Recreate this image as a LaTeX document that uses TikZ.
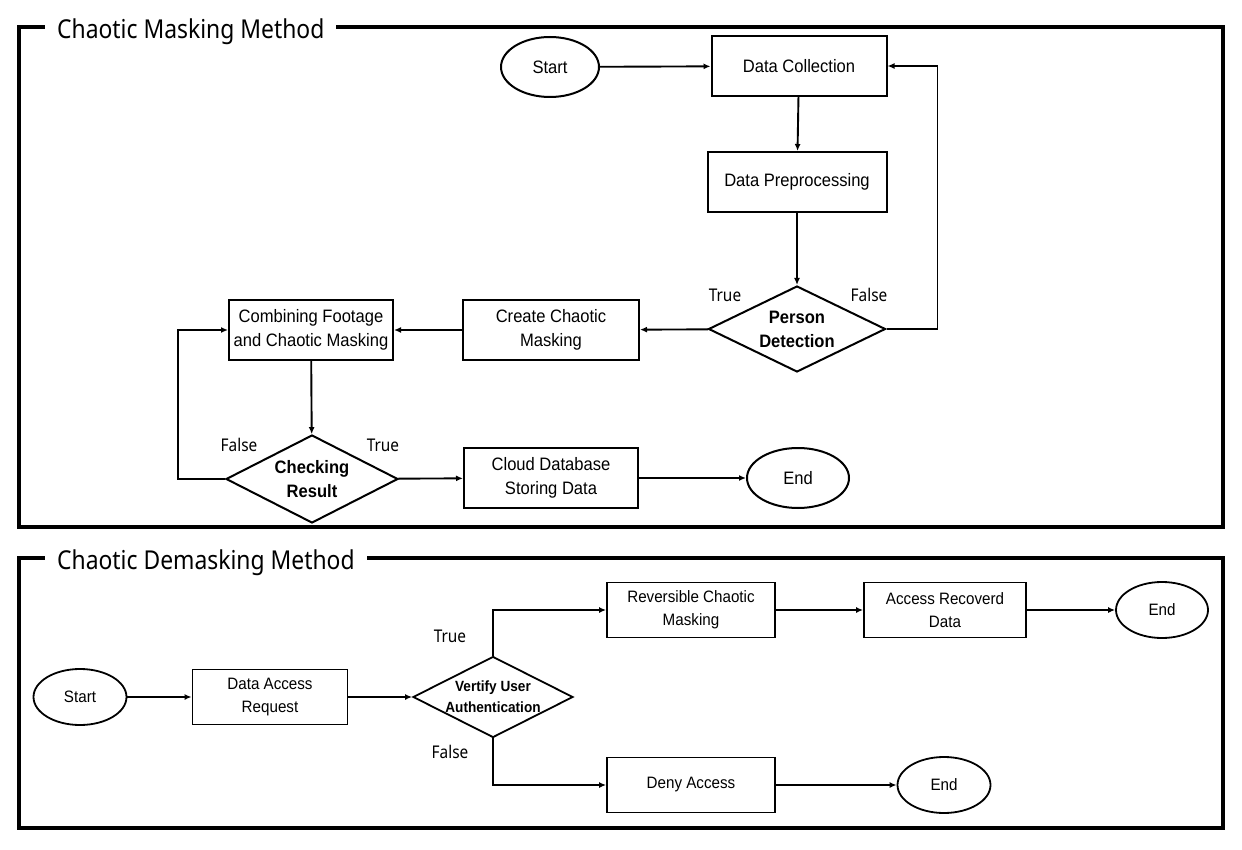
\documentclass[tikz,border=0pt]{standalone}
\usepackage{fontspec}
\setmainfont{Liberation Sans}
\newfontfamily\titlefont[FakeStretch=0.88]{Noto Sans}
\newfontfamily\boxfont[FakeStretch=0.92]{Liberation Sans}
\usetikzlibrary{shapes.geometric,arrows.meta}

\begin{document}
\begin{tikzpicture}[x=1pt, y=-1pt,
  frame/.style={line width=3.6pt},
  heading/.style={fill=white, inner xsep=12pt, inner ysep=3pt, anchor=base west,
    font=\titlefont\fontsize{26}{30}\selectfont},
  proc/.style={draw, line width=2pt, minimum height=60pt, inner sep=2pt, align=center,
    font=\boxfont\fontsize{18}{24}\selectfont},
  lowproc/.style={proc, line width=1.8pt, minimum height=55pt,
    font=\boxfont\fontsize{16.5}{23}\selectfont},
  decision/.style={draw, diamond, aspect=2, line width=2pt, inner sep=0pt, align=center,
    font=\boxfont\bfseries\fontsize{18}{24}\selectfont},
  terminal/.style={draw, ellipse, line width=2pt, inner sep=0pt,
    font=\boxfont\fontsize{18}{20}\selectfont},
  branch/.style={font=\titlefont\fontsize{17.5}{20}\selectfont},
  arr/.style={-{Latex[length=7pt,width=6pt]}, line width=1.9pt},
  lowarr/.style={arr, line width=1.5pt}]
\useasboundingbox (0,0) rectangle (1242,850);

% Chaotic Masking Method
\draw[frame] (19,27) rectangle (1223,527);
\node[heading] (mtitle) at (45,39) {Chaotic Masking Method};

\node[terminal, minimum width=98pt, minimum height=60pt] (start1) at (550,67) {Start};
\node[proc, minimum width=175pt] (dcol) at (799,66) {Data Collection};
\node[proc, minimum width=179pt] (dpre) at (797,182) {Data Preprocessing};
\node[decision, minimum width=177pt, minimum height=86pt] (pdet) at (797,329) {Person\\Detection};
\node[proc, minimum width=176pt] (cmask) at (551,330) {Create Chaotic\\Masking};
\node[proc, minimum width=164pt] (comb) at (311,330) {Combining Footage\\and Chaotic Masking};
\node[decision, minimum width=172pt, minimum height=88pt] (check) at (312,479) {Checking\\Result};
\node[proc, minimum width=174pt] (cloud) at (551,478) {Cloud Database\\Storing Data};
\node[terminal, minimum width=102pt, minimum height=60pt] (end1) at (798,478) {End};

\node[branch] (ptrue) at (725,295) {True};
\node[branch] (pfalse) at (869,295) {False};
\node[branch] (cfalse) at (239,445) {False};
\node[branch] (ctrue) at (383,445) {True};

\draw[arr] (start1) -- (dcol);
\draw[arr] (dcol) -- (dpre);
\draw[arr] (dpre) -- (pdet);
\draw[arr] (pdet.east) -- ++(51,0) |- (dcol);
\draw[arr] (pdet) -- (cmask);
\draw[arr] (cmask) -- (comb);
\draw[arr] (comb) -- (check);
\draw[arr] (check.west) -- ++(-47,0) |- (comb);
\draw[arr] (check) -- (cloud);
\draw[arr] (cloud) -- (end1);

% Chaotic Demasking Method
\draw[frame] (19,558) rectangle (1223,828);
\node[heading] (dtitle) at (45,569) {Chaotic Demasking Method};

\node[terminal, minimum width=93pt, minimum height=56pt, font=\boxfont\fontsize{16.5}{20}\selectfont, line width=1.8pt] (start2) at (80,697) {Start};
\node[lowproc, minimum width=155pt] (dreq) at (270,697) {Data Access\\Request};
\node[decision, minimum width=160pt, minimum height=81pt, line width=1.8pt, font=\boxfont\bfseries\fontsize{14.8}{21}\selectfont] (auth) at (493,697) {Vertify User\\Authentication};
\node[lowproc, minimum width=168pt] (rev) at (691,610) {Reversible Chaotic\\Masking};
\node[lowproc, minimum width=162pt] (recov) at (945,610) {Access Recoverd\\Data};
\node[terminal, minimum width=92pt, minimum height=56pt, font=\boxfont\fontsize{16.5}{20}\selectfont, line width=1.8pt] (end2) at (1162,610) {End};
\node[lowproc, minimum width=168pt] (deny) at (691,785) {Deny Access};
\node[terminal, minimum width=93pt, minimum height=56pt, font=\boxfont\fontsize{16.5}{20}\selectfont, line width=1.8pt] (end3) at (944,785) {End};

\node[branch] (atrue) at (450,636) {True};
\node[branch] (afalse) at (450,752) {False};

\draw[lowarr] (start2) -- (dreq);
\draw[lowarr] (dreq) -- (auth);
\draw[lowarr] (auth.north) |- (rev);
\draw[lowarr] (rev) -- (recov);
\draw[lowarr] (recov) -- (end2);
\draw[lowarr] (auth.south) |- (deny);
\draw[lowarr] (deny) -- (end3);
\end{tikzpicture}
\end{document}
